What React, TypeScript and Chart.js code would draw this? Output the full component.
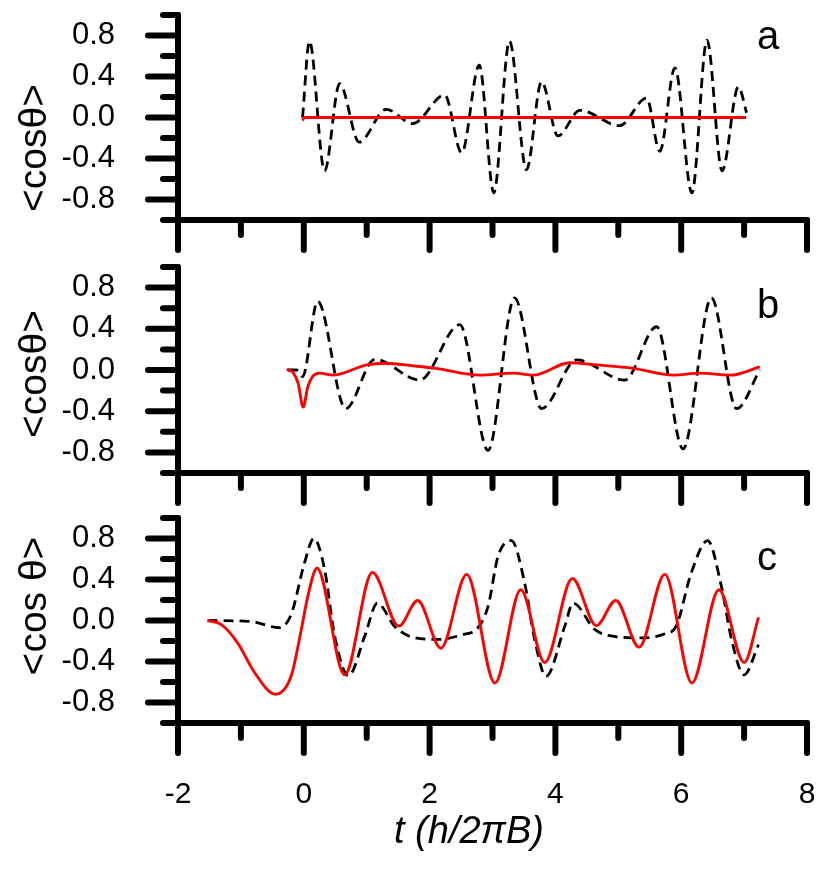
import React, { useEffect, useRef } from "react";
import { Chart, registerables } from "chart.js";

Chart.register(...registerables);

// ---------------- data ----------------
// Panel a
const tA_dash = [-0.02, 0.09, 0.33, 0.57, 0.88, 1.31, 1.73, 2.24, 2.51, 2.79, 3.02, 3.27, 3.54, 3.78, 4.04, 4.39, 5.02, 5.45, 5.66, 5.90, 6.17, 6.41, 6.65, 6.91, 7.04];
const yA_dash = [0.0, 0.745, -0.52, 0.33, -0.24, 0.08, -0.06, 0.22, -0.345, 0.51, -0.735, 0.745, -0.51, 0.35, -0.18, 0.07, -0.08, 0.19, -0.33, 0.485, -0.735, 0.755, -0.52, 0.30, 0.046];
const tA_red = [-0.02, 0.01, 7.03];
const yA_red = [-0.03, 0.0, 0.0];

// Panel b
const tB_dash = [-0.25, -0.12, -0.02, 0.22, 0.665, 1.13, 1.84, 2.48, 2.93, 3.35, 3.78, 4.34, 5.10, 5.61, 6.03, 6.48, 6.88, 7.25];
const yB_dash = [0.0, 0.0, -0.065, 0.667, -0.375, 0.104, -0.098, 0.44, -0.78, 0.70, -0.375, 0.098, -0.098, 0.42, -0.765, 0.70, -0.375, 0.0];
const tB_red = [-0.27, -0.17, -0.09, -0.01, 0.065, 0.145, 0.25, 0.46, 1.0, 1.3, 1.74, 2.1, 2.8, 3.33, 3.65, 4.23, 4.65, 5.24, 5.87, 6.3, 6.78, 7.25];
const yB_red = [0.007, -0.026, -0.13, -0.36, -0.16, -0.06, -0.03, -0.05, 0.05, 0.065, 0.04, 0.016, -0.05, -0.03, -0.05, 0.07, 0.05, 0.016, -0.05, -0.03, -0.05, 0.03];

// Panel c
const tC_dash = [-1.53, -0.84, -0.39, -0.2, 0.01, 0.16, 0.33, 0.49, 0.71, 0.97, 1.17, 1.44, 1.71, 2.13, 2.51, 2.77, 2.93, 3.09, 3.30, 3.51, 3.67, 3.85, 4.15, 4.28, 4.63, 5.0, 5.37, 5.74, 5.92, 6.16, 6.42, 6.64, 6.80, 7.0, 7.23];
const yC_dash = [0.0, -0.01, -0.07, 0.06, 0.56, 0.80, 0.5, -0.15, -0.54, -0.15, 0.17, -0.055, -0.16, -0.185, -0.14, -0.07, 0.14, 0.63, 0.78, 0.37, -0.185, -0.545, -0.055, 0.17, -0.09, -0.16, -0.17, -0.13, -0.055, 0.465, 0.78, 0.33, -0.185, -0.53, -0.235];
const tC_red = [-1.53, -1.31, -1.05, -0.78, -0.45, -0.2, -0.04, 0.065, 0.21, 0.65, 1.09, 1.51, 1.81, 2.18, 2.59, 3.04, 3.45, 3.83, 4.27, 4.65, 4.96, 5.33, 5.74, 6.17, 6.60, 7.00, 7.23];
const yC_red = [0.0, -0.04, -0.22, -0.51, -0.72, -0.54, -0.09, 0.24, 0.51, -0.53, 0.47, -0.055, 0.195, -0.27, 0.45, -0.61, 0.30, -0.41, 0.41, -0.05, 0.195, -0.26, 0.45, -0.61, 0.30, -0.41, 0.03];

// axes / labels
const xTickValues = [-2, 0, 2, 4, 6, 8];
const xMinorTicks = [-1, 1, 3, 5, 7];
const yTickValues = [-0.8, -0.4, 0, 0.4, 0.8];
const yMinorTicks = [-1, -0.6, -0.2, 0.2, 0.6, 1];
const panelLetters = ["a", "b", "c"];
const yTitles = ["<cosθ>", "<cosθ>", "<cos θ>"];
const xTitle = "t (h/2πB)";

// ---------------- layout ----------------
const W = 830;
const H = 885;
const FONT = '"Liberation Sans", Arial, Helvetica, sans-serif';
const PANELS = [
  { top: 15, bottom: 220, letterY: 49, yTitleY: 148 },
  { top: 267, bottom: 473, letterY: 318, yTitleY: 374 },
  { top: 518, bottom: 723, letterY: 570, yTitleY: 606 },
];

const zip = (t: number[], y: number[]) => t.map((v, i) => ({ x: v, y: y[i] }));

const axesPlugin = {
  id: "panelAxes",
  afterDatasetsDraw(chart: any) {
    const { ctx, chartArea, scales } = chart;
    const xs = scales.x;
    const ys = scales.y;
    const L = chartArea.left;
    const B = chartArea.bottom;
    ctx.save();
    ctx.strokeStyle = "#000";
    ctx.lineWidth = 6;
    ctx.lineCap = "round";
    const line = (x1: number, y1: number, x2: number, y2: number) => {
      ctx.beginPath();
      ctx.moveTo(x1, y1);
      ctx.lineTo(x2, y2);
      ctx.stroke();
    };
    line(L, ys.getPixelForValue(1), L, ys.getPixelForValue(-1));
    line(xs.getPixelForValue(-2), B, xs.getPixelForValue(8), B);
    yTickValues.forEach((v) => {
      const p = ys.getPixelForValue(v);
      line(L, p, L - 30, p);
    });
    yMinorTicks.forEach((v) => {
      const p = ys.getPixelForValue(v);
      line(L, p, L - 15, p);
    });
    xTickValues.forEach((v) => {
      const p = xs.getPixelForValue(v);
      line(p, B, p, B + 30);
    });
    xMinorTicks.forEach((v) => {
      const p = xs.getPixelForValue(v);
      line(p, B, p, B + 15);
    });
    ctx.restore();
  },
};

const textPlugin = {
  id: "panelText",
  afterDraw(chart: any, _args: any, opts: any) {
    const { ctx } = chart;
    ctx.save();
    ctx.fillStyle = "#000";
    ctx.font = `40px ${FONT}`;
    ctx.textAlign = "left";
    ctx.textBaseline = "alphabetic";
    ctx.fillText(opts.letter, opts.letterX, opts.letterY);

    ctx.save();
    ctx.translate(opts.yTitleX, opts.yTitleY);
    ctx.rotate(-Math.PI / 2);
    ctx.font = `39px ${FONT}`;
    ctx.textAlign = "center";
    ctx.textBaseline = "middle";
    ctx.fillText(opts.yTitle, 0, 0);
    ctx.restore();

    if (opts.xTitle) {
      ctx.font = `italic 38px ${FONT}`;
      ctx.textAlign = "center";
      ctx.textBaseline = "middle";
      ctx.fillText(opts.xTitle, opts.xTitleX, opts.xTitleY);
    }
    ctx.restore();
  },
};

function makeChart(canvas: HTMLCanvasElement, idx: number, dashT: number[], dashY: number[], redT: number[], redY: number[]) {
  const p = PANELS[idx];
  const showX = idx === 2;
  return new Chart(canvas, {
    type: "line",
    data: {
      datasets: [
        {
          data: zip(redT, redY),
          borderColor: "#ff0000",
          borderWidth: 2.9,
          pointRadius: 0,
          fill: false,
          cubicInterpolationMode: "monotone",
        },
        {
          data: zip(dashT, dashY),
          borderColor: "#000000",
          borderWidth: 2.8,
          borderDash: [10, 6],
          pointRadius: 0,
          fill: false,
          cubicInterpolationMode: "monotone",
        },
      ],
    },
    options: {
      responsive: false,
      animation: false,
      events: [],
      layout: { padding: { top: p.top, right: W - 807, bottom: 0, left: 0 } },
      plugins: {
        legend: { display: false },
        tooltip: { enabled: false },
        panelText: {
          letter: panelLetters[idx],
          letterX: 757,
          letterY: p.letterY,
          yTitle: yTitles[idx],
          yTitleX: 35,
          yTitleY: p.yTitleY,
          xTitle: showX ? xTitle : "",
          xTitleX: 469,
          xTitleY: 832,
        },
      } as any,
      scales: {
        x: {
          type: "linear",
          min: -2,
          max: 8,
          grid: { display: false },
          border: { display: false },
          afterBuildTicks: (s: any) => {
            s.ticks = xTickValues.map((v) => ({ value: v }));
          },
          afterFit: (s: any) => {
            s.height = H - p.bottom;
            s.paddingLeft = 0;
            s.paddingRight = 0;
          },
          ticks: {
            display: showX,
            color: "#000",
            font: { family: FONT, size: 30 },
            padding: 46,
            maxRotation: 0,
            autoSkip: false,
            callback: (v: any) => String(v),
          },
        },
        y: {
          type: "linear",
          min: -1,
          max: 1,
          grid: { display: false },
          border: { display: false },
          afterBuildTicks: (s: any) => {
            s.ticks = yTickValues.map((v) => ({ value: v }));
          },
          afterFit: (s: any) => {
            s.width = 178;
            s.paddingTop = 0;
            s.paddingBottom = 0;
          },
          ticks: {
            color: "#000",
            font: { family: FONT, size: 31 },
            padding: 55,
            autoSkip: false,
            callback: (v: any) => Number(v).toFixed(1),
          },
        },
      },
    } as any,
    plugins: [axesPlugin, textPlugin],
  });
}

export default function App() {
  const refA = useRef<HTMLCanvasElement>(null);
  const refB = useRef<HTMLCanvasElement>(null);
  const refC = useRef<HTMLCanvasElement>(null);

  useEffect(() => {
    const charts = [
      makeChart(refA.current!, 0, tA_dash, yA_dash, tA_red, yA_red),
      makeChart(refB.current!, 1, tB_dash, yB_dash, tB_red, yB_red),
      makeChart(refC.current!, 2, tC_dash, yC_dash, tC_red, yC_red),
    ];
    return () => charts.forEach((c) => c.destroy());
  }, []);

  const style: React.CSSProperties = { position: "absolute", left: 0, top: 0, width: W, height: H };
  return (
    <div style={{ position: "absolute", left: 0, top: 0, width: W, height: H, background: "#fff" }}>
      <canvas ref={refA} width={W} height={H} style={style} />
      <canvas ref={refB} width={W} height={H} style={style} />
      <canvas ref={refC} width={W} height={H} style={style} />
    </div>
  );
}
